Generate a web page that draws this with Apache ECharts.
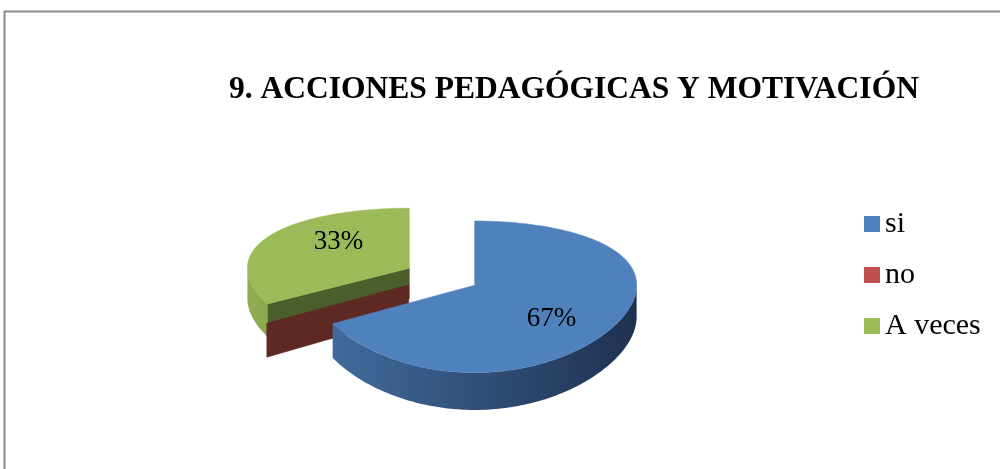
<!DOCTYPE html>
<html>
<head>
<meta charset="utf-8">
<script src="https://cdn.jsdelivr.net/npm/echarts@6/dist/echarts.min.js"></script>
<style>
html, body { margin: 0; padding: 0; background: #fff; }
#main { width: 1000px; height: 469px; }
</style>
</head>
<body>
<div id="main"></div>
<script>
// data
var categories = ['si', 'no', 'A veces'];
var values = [67, 0, 33];
var colors = ['#4f81bd', '#c0504d', '#9bbb59'];
var wallColors = [['#416b9c', '#1e3150'], ['#5e2823', '#5e2823'], ['#90af52', '#8aa84e']];
var cutColors = ['#2a4468', '#5e2823', '#4b5e2b'];
var titleText = '9. ACCIONES PEDAGÓGICAS Y MOTIVACIÓN';

var FONT = "'Liberation Serif', 'Times New Roman', serif";

// 3d pie projection (excel style, tilted with a bit of perspective)
var cx = 442, cy = 276.5, R = 162, A = 71.4, K = 0.151, H = 31, EXPLODE = 0.234;

var total = values.reduce(function (a, b) { return a + b; }, 0);
var slices = [];
var acc = 0;
values.forEach(function (v) {
  var a0 = acc / total * Math.PI * 2;
  acc += v;
  var a1 = acc / total * Math.PI * 2;
  var mid = (a0 + a1) / 2;
  slices.push({ a0: a0, a1: a1, mid: mid, ou: EXPLODE * Math.sin(mid), ov: -EXPLODE * Math.cos(mid) });
});
// far slices get painted first
var order = slices.map(function (s, i) { return i; }).sort(function (a, b) { return slices[a].ov - slices[b].ov; });
var rank = [];
order.forEach(function (idx, r) { rank[idx] = r; });

function proj(u, v, h) {
  return [cx + R * u, cy + (A * v + H * h) / (1 - K * v)];
}

function renderSlice(params, api) {
  var i = params.dataIndex;
  var s = slices[i];
  var z = rank[i] * 10;
  var kids = [];

  function pt(th, r, h) {
    return proj(s.ou + r * Math.sin(th), s.ov - r * Math.cos(th), h);
  }
  function arc(t0, t1, h) {
    var pts = [];
    var n = Math.max(2, Math.ceil(Math.abs(t1 - t0) / 0.02));
    for (var j = 0; j <= n; j++) pts.push(pt(t0 + (t1 - t0) * j / n, 1, h));
    return pts;
  }
  function cutFace(th) {
    return {
      type: 'polygon', z2: z + 1,
      shape: { points: [pt(th, 0, 0), pt(th, 1, 0), pt(th, 1, 1), pt(th, 0, 1)] },
      style: { fill: cutColors[i], stroke: cutColors[i], lineWidth: 0.5 }
    };
  }

  if (Math.sin(s.a0) < -1e-6) kids.push(cutFace(s.a0));
  if (Math.sin(s.a1) > 1e-6) kids.push(cutFace(s.a1));

  var w0 = Math.max(s.a0, Math.PI / 2), w1 = Math.min(s.a1, Math.PI * 1.5);
  if (w1 > w0) {
    kids.push({
      type: 'polygon', z2: z + 2,
      shape: { points: arc(w0, w1, 0).concat(arc(w1, w0, 1)) },
      style: {
        fill: { type: 'linear', x: 0, y: 0, x2: 1, y2: 0,
          colorStops: [{ offset: 0, color: wallColors[i][0] }, { offset: 1, color: wallColors[i][1] }] },
        stroke: null
      }
    });
  }

  if (s.a1 > s.a0) {
    kids.push({
      type: 'polygon', z2: z + 3,
      shape: { points: [pt(0, 0, 0)].concat(arc(s.a0, s.a1, 0)) },
      style: { fill: colors[i], stroke: colors[i], lineWidth: 0.5 }
    });
    var lr = 0.53;
    var lp = proj(s.ou + lr * Math.sin(s.mid), (s.ov - lr * Math.cos(s.mid)) * 1.38, 0);
    kids.push({
      type: 'text', z2: 100, x: lp[0] + 3, y: lp[1] + 1,
      style: {
        text: Math.round(api.value(0) / total * 100) + '%',
        font: '27px ' + FONT, fill: '#000', align: 'center', verticalAlign: 'middle'
      }
    });
  }
  return { type: 'group', children: kids };
}

var myChart = echarts.init(document.getElementById('main'));
myChart.setOption({
  animation: false,
  color: colors,
  title: {
    text: titleText,
    left: 229, top: 74, padding: 0,
    textStyle: { fontFamily: FONT, fontSize: 31.5, fontWeight: 'bold', color: '#000' }
  },
  legend: {
    orient: 'vertical',
    left: 864, top: 209, padding: 0,
    itemWidth: 16, itemHeight: 16, itemGap: 21,
    icon: 'rect',
    data: categories,
    textStyle: { fontFamily: FONT, fontSize: 30, color: '#000' }
  },
  graphic: [{
    type: 'rect', silent: true,
    shape: { x: 4.5, y: 11.5, width: 1200, height: 600 },
    style: { fill: 'none', stroke: '#8a8a8a', lineWidth: 2 }
  }],
  series: [{
    type: 'custom',
    name: 'Acciones',
    coordinateSystem: 'none',
    silent: true,
    renderItem: renderSlice,
    data: values.map(function (v, i) { return { name: categories[i], value: v }; })
  }, {
    // only feeds the legend
    type: 'pie',
    radius: [0, 0],
    silent: true,
    label: { show: false },
    labelLine: { show: false },
    data: values.map(function (v, i) { return { name: categories[i], value: v }; })
  }]
});
</script>
</body>
</html>
